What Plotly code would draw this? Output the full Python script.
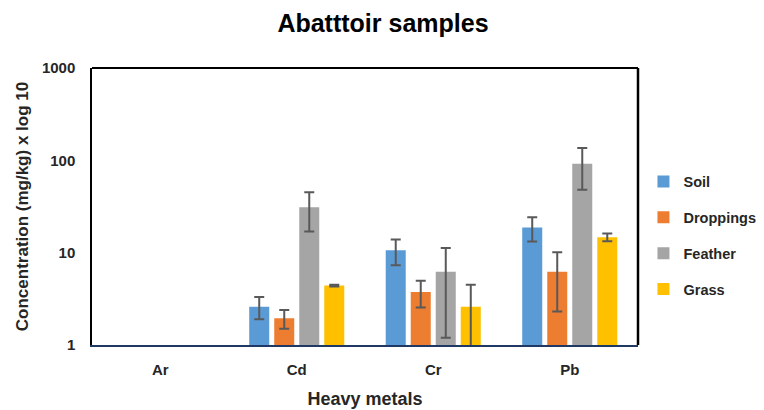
import plotly.graph_objects as go

categories = ["Ar", "Cd", "Cr", "Pb"]
series = ["Soil", "Droppings", "Feather", "Grass"]
colors = ["#5B9BD5", "#ED7D31", "#A5A5A5", "#FFC000"]

soil = [None, 2.6, 10.6, 18.7]
soil_err = [None, 0.7, 3.3, 5.5]
droppings = [None, 1.95, 3.75, 6.2]
droppings_err = [None, 0.45, 1.2, 3.9]
feather = [None, 31.0, 6.2, 92.0]
feather_err = [None, 14.0, 5.0, 44.0]
grass = [None, 4.4, 2.6, 14.7]
grass_err = [None, 0.1, 1.9, 1.4]

values = [soil, droppings, feather, grass]
errors = [soil_err, droppings_err, feather_err, grass_err]

font_family = "Liberation Sans, Arial, sans-serif"
txt = "#262626"

fig = go.Figure()
for name, vals, errs, col in zip(series, values, errors, colors):
    fig.add_trace(go.Bar(
        name="<b>%s</b>" % name, x=categories, y=vals, marker_color=col,
        marker_line_width=0, legendgroup=name,
        error_y=dict(type="data", array=errs, visible=True,
                     color="#595959", thickness=2, width=5),
    ))

# page body has an 8px margin, so the figure is laid out 8px up/left of screen coords
fig.update_layout(
    width=756, height=402,
    barmode="group", bargap=0.267, bargroupgap=0.2,
    paper_bgcolor="white", plot_bgcolor="white",
    margin=dict(l=84, r=126, t=60, b=65, autoexpand=False),
    title=dict(text="<b>Abatttoir samples</b>", x=0.496, xanchor="center",
               y=0.962, yanchor="middle",
               font=dict(family=font_family, size=25, color="black")),
    font=dict(family=font_family, color=txt),
    legend=dict(x=1.01, y=0.395, xanchor="left", yanchor="middle",
                font=dict(size=14.5, family=font_family, color=txt),
                tracegroupgap=14, itemsizing="constant", itemwidth=30,
                traceorder="grouped"),
    xaxis=dict(
        title=dict(text="<b>Heavy metals</b>", font=dict(size=18, color=txt), standoff=15),
        tickfont=dict(size=15, color=txt), ticklabelstandoff=10,
        showline=True, linecolor="#1F3864", linewidth=2, mirror=False,
        ticks="", showgrid=False, automargin=False,
        tickvals=categories, ticktext=["<b>%s</b>" % c for c in categories],
    ),
    yaxis=dict(
        type="log", range=[0, 3],
        title=dict(text="<b>Concentration (mg/kg) x log 10</b>", font=dict(size=17, color=txt), standoff=9),
        tickfont=dict(size=15, color=txt), ticklabelstandoff=12,
        tickvals=[1, 10, 100, 1000],
        ticktext=["<b>1</b>", "<b>10</b>", "<b>100</b>", "<b>1000</b>"],
        showline=True, linecolor="black", linewidth=1.5, mirror=False,
        showgrid=False, zeroline=False, ticks="", automargin=False,
    ),
)

# frame: top and right border
fig.add_shape(type="line", xref="paper", yref="paper", x0=0, x1=1, y0=1, y1=1,
              line=dict(color="black", width=2))
fig.add_shape(type="line", xref="paper", yref="paper", x0=1, x1=1, y0=0, y1=1,
              line=dict(color="black", width=2.5))

fig.write_html("out.html")
